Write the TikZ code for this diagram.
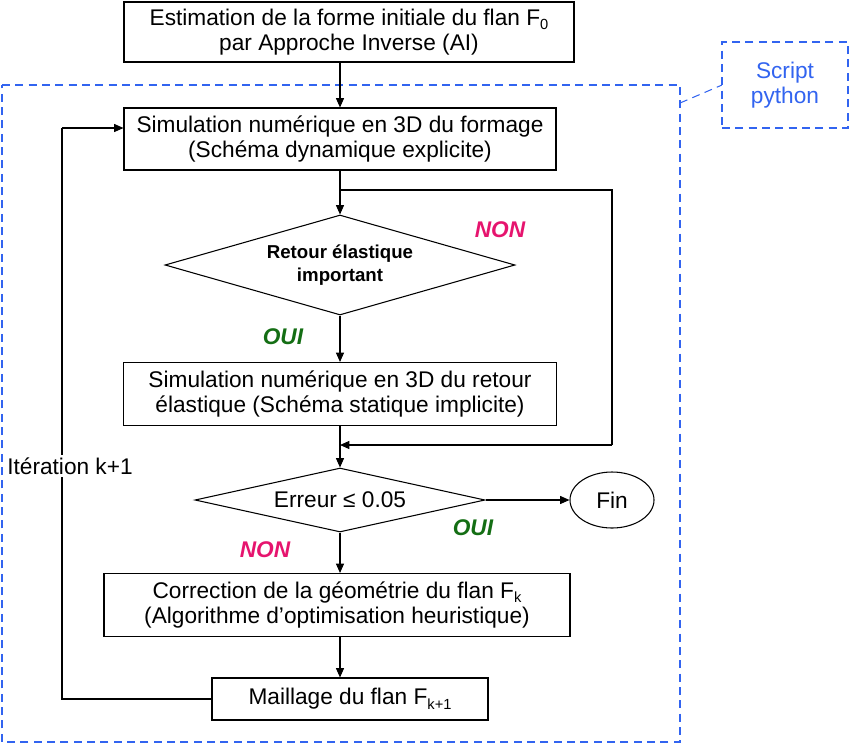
\documentclass[tikz,border=0pt]{standalone}
\usepackage{fontspec}
\setmainfont{Liberation Sans}
\usetikzlibrary{shapes.geometric,arrows.meta}
\definecolor{dblue}{RGB}{50,100,240}
\definecolor{mag}{RGB}{230,20,110}
\definecolor{dgreen}{RGB}{20,110,20}
\newcommand{\lowsub}[1]{\raisebox{-0.35ex}{\fontsize{11}{12}\selectfont #1}}
\begin{document}
\begin{tikzpicture}[x=0.75pt,y=-0.75pt,
  box/.style={draw,thick,fill=white,inner sep=0pt,font=\fontsize{17}{19}\selectfont,align=center},
  dia/.style={draw,thick,diamond,aspect=3,inner sep=0pt,font=\fontsize{14}{17}\selectfont\bfseries,align=center},
  arr/.style={thick,-{Triangle[length=7pt,width=6pt]}},
  ln/.style={thick},
  lbl/.style={font=\fontsize{17}{19}\selectfont\bfseries\itshape}]
\useasboundingbox (0,0) rectangle (850,744);
\draw[dblue,thick,dash pattern=on 6pt off 4pt] (2,85) -- (680,85) -- (680,742) -- (2,742) -- cycle;
\draw[dblue,thick,dash pattern=on 6pt off 4pt] (680,103) -- (722,85);
\node[box,draw=dblue,dash pattern=on 6pt off 4pt,text=dblue,minimum width=126*0.75pt,minimum height=86*0.75pt] (py) at (785,85) {Script\\python};
\node[box,minimum width=450*0.75pt,minimum height=60*0.75pt] (b1) at (349,32) {Estimation de la forme initiale du flan F\lowsub{0}\\par Approche Inverse (AI)};
\node[box,minimum width=432*0.75pt,minimum height=62*0.75pt] (b2) at (340,139) {Simulation numérique en 3D du formage\\(Schéma dynamique explicite)};
\node[dia,minimum width=350*0.75pt,minimum height=100*0.75pt] (d1) at (340,265) {Retour élastique\\important};
\node[box,minimum width=433*0.75pt,minimum height=63*0.75pt] (b3) at (340,394) {Simulation numérique en 3D du retour\\élastique (Schéma statique implicite)};
\node[dia,minimum width=290*0.75pt,minimum height=64*0.75pt,font=\fontsize{17}{19}\selectfont] (d2) at (340,500) {Erreur ≤ 0.05};
\node[draw,thick,ellipse,minimum width=84*0.75pt,minimum height=56*0.75pt,font=\fontsize{17}{19}\selectfont] (fin) at (612,500) {Fin};
\node[box,minimum width=466*0.75pt,minimum height=63*0.75pt] (b4) at (337,605) {Correction de la géométrie du flan F\lowsub{k}\\(Algorithme d’optimisation heuristique)};
\node[box,minimum width=276*0.75pt,minimum height=42*0.75pt] (b5) at (350,699) {Maillage du flan F\lowsub{k+1}};
\coordinate (s1) at (340,190);
\coordinate (r1) at (612,190);
\coordinate (r2) at (612,445);
\coordinate (m2) at (340,445);
\coordinate (l1) at (62,699);
\coordinate (l2) at (62,128);
\draw[arr] (b1.south -| b2) -- (b2);
\draw[arr] (b2) -- (d1);
\draw[ln] (s1) -- (r1) -- (r2);
\draw[arr] (r2) -- (m2);
\draw[arr] (d1) -- (b3);
\draw[arr] (b3.south) -- (d2.north);
\draw[arr] (d2.east) -- (fin.west);
\draw[arr] (d2.south) -- (d2.south |- b4.north);
\draw[arr] (b4.south -| d2) -- (d2 |- b5.north);
\draw[ln] (b5.west) -- (l1) -- (l2);
\draw[arr] (l2) -- (b2.west|-l2);
\node[fill=white,inner sep=2pt,font=\fontsize{17}{19}\selectfont] (it) at (70,466) {Itération k+1};
\node[lbl,text=mag] (n1) at (500,230) {NON};
\node[lbl,text=dgreen] (o1) at (283,337) {OUI};
\node[lbl,text=dgreen] (o2) at (473,528) {OUI};
\node[lbl,text=mag] (n2) at (265,550) {NON};
\end{tikzpicture}
\end{document}
